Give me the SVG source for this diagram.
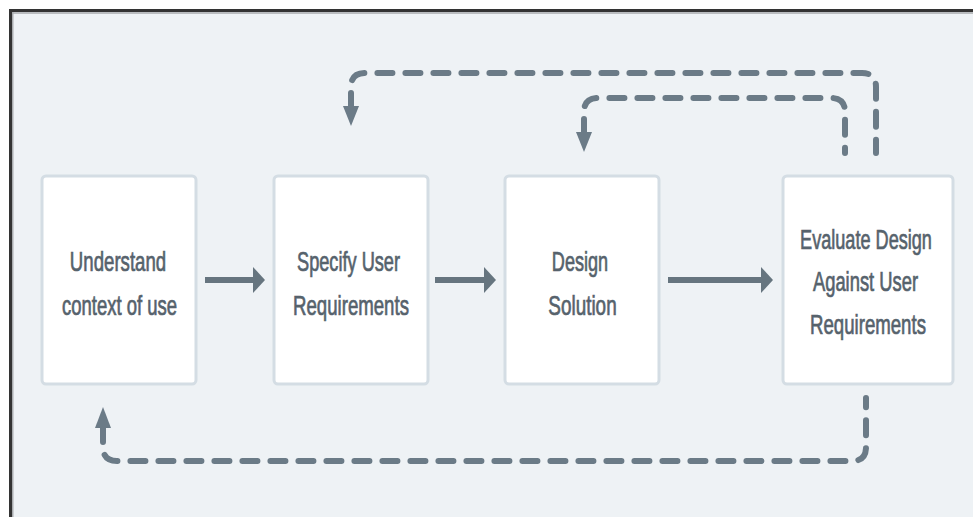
<svg xmlns="http://www.w3.org/2000/svg" width="973" height="517" viewBox="0 0 973 517">
  <defs>
    <style>
      .node rect { fill: #ffffff; stroke: #d4dde4; stroke-width: 3; }
      .node text { font-family: "Liberation Sans", Arial, sans-serif; font-size: 27px; fill: #56626c; stroke: #56626c; stroke-width: 0.7; text-anchor: middle; }
      .solid { stroke: #66757f; stroke-width: 6; fill: none; }
      .head { fill: #66757f; }
      .dash { stroke: #6b7b87; stroke-width: 6; fill: none; stroke-dasharray: 15 13; stroke-linecap: round; }
      .dhead { fill: #6b7b87; }
    </style>
  </defs>
  <rect x="0" y="0" width="973" height="517" fill="#ffffff"/>
  <rect x="9" y="9" width="964" height="508" fill="#eef2f5"/>
  <rect x="9" y="9" width="964" height="3" fill="#333333"/>
  <rect x="12" y="12" width="961" height="2" fill="#b9bcbf"/>
  <rect x="9" y="9" width="3" height="508" fill="#333333"/>
  <rect x="12" y="12" width="1.5" height="505" fill="#a9acaf"/>

  <g id="n1" class="node">
    <rect x="42" y="176" width="154" height="208" rx="4"/>
    <text transform="translate(118 271) scale(0.69 1)">Understand</text>
    <text transform="translate(119.5 315) scale(0.684 1)">context of use</text>
  </g>
  <g id="n2" class="node">
    <rect x="274" y="176" width="154" height="208" rx="4"/>
    <text transform="translate(348.5 271) scale(0.673 1)">Specify User</text>
    <text transform="translate(351 315) scale(0.69 1)">Requirements</text>
  </g>
  <g id="n3" class="node">
    <rect x="505" y="176" width="154" height="208" rx="4"/>
    <text transform="translate(580 271) scale(0.67 1)">Design</text>
    <text transform="translate(582.5 315) scale(0.7 1)">Solution</text>
  </g>
  <g id="n4" class="node">
    <rect x="783" y="176" width="170" height="208" rx="4"/>
    <text transform="translate(866 249) scale(0.671 1)">Evaluate Design</text>
    <text transform="translate(865.5 291) scale(0.68 1)">Against User</text>
    <text transform="translate(868 334) scale(0.69 1)">Requirements</text>
  </g>

  <g id="connectors">
    <line class="solid" x1="205" y1="280" x2="255" y2="280"/>
    <polygon class="head" points="253,267 265,280 253,293"/>
    <line class="solid" x1="435" y1="280" x2="485" y2="280"/>
    <polygon class="head" points="484,267 496,280 484,293"/>
    <line class="solid" x1="668" y1="280" x2="763" y2="280"/>
    <polygon class="head" points="761,267 773,280 761,293"/>

    <path class="dash" d="M 351 108 L 351 87 Q 351 73 365 73 L 862 73 Q 876 73 876 87 L 876 153"/>
    <polygon class="dhead" points="343,106 359,106 351,126"/>

    <path class="dash" d="M 584 134 L 584 112 Q 584 98 598 98 L 831 98 Q 845 98 845 112 L 845 153"/>
    <polygon class="dhead" points="576,132 592,132 584,152"/>

    <path class="dash" d="M 103 427 L 103 447 Q 103 461 117 461 L 852 461 Q 866 461 866 447 L 866 398"/>
    <polygon class="dhead" points="95,428 111,428 103,407"/>
  </g>
</svg>
